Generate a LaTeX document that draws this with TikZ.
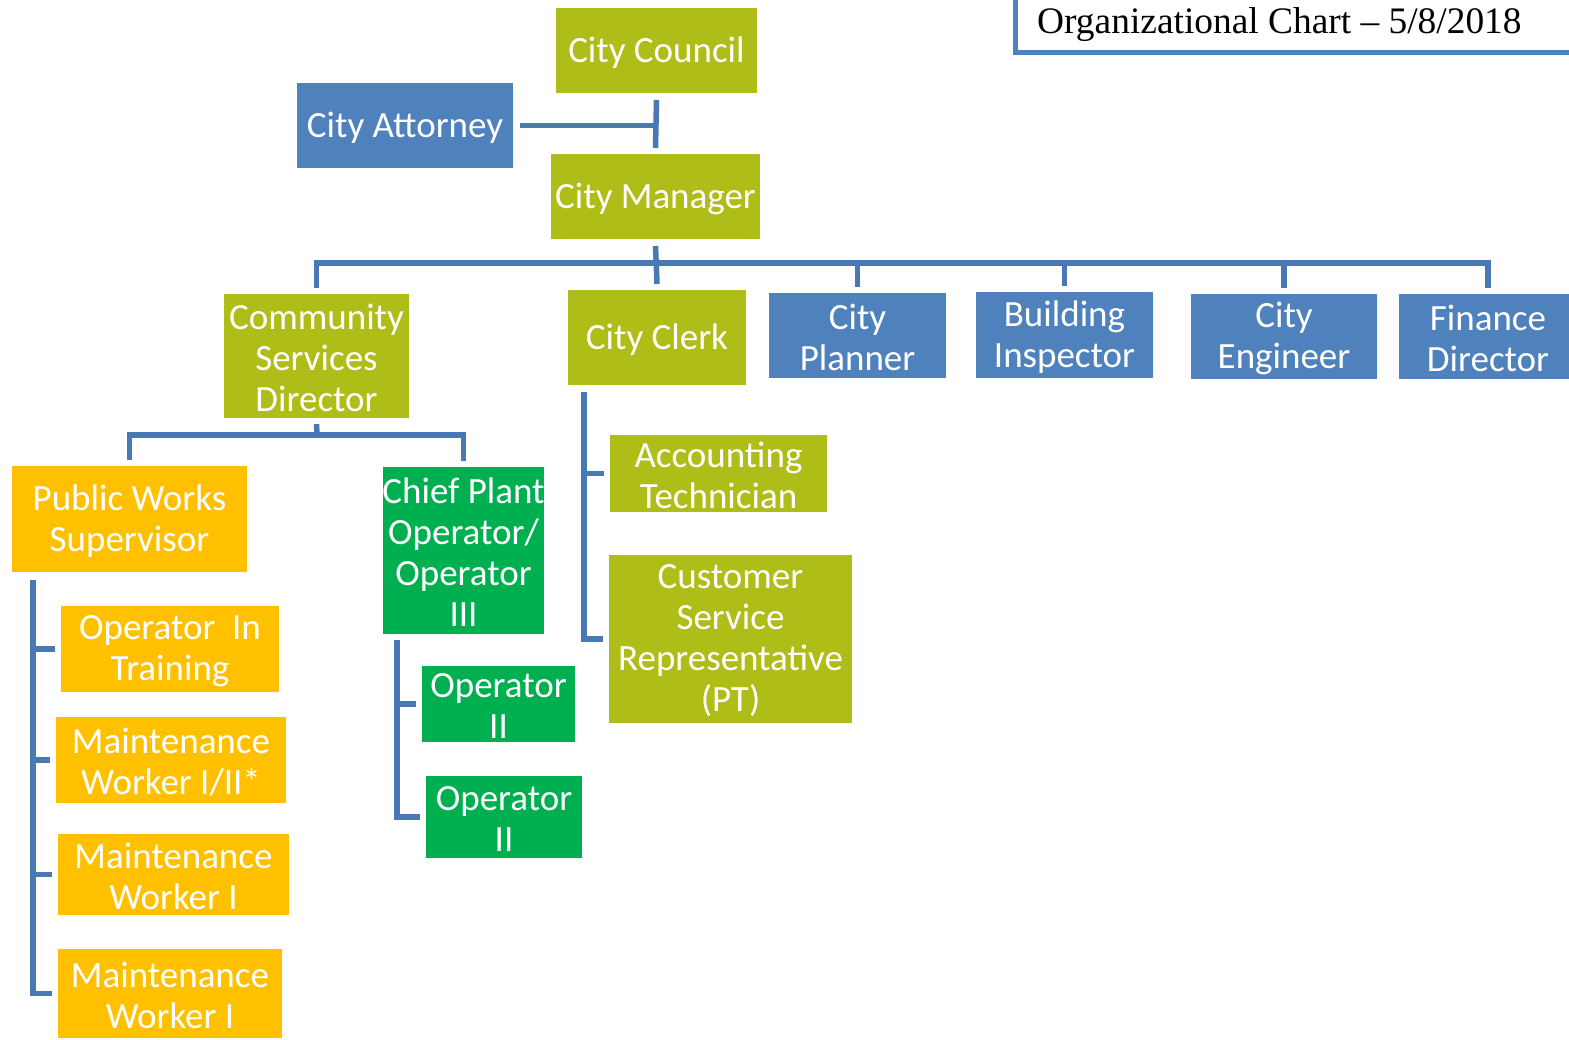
\documentclass[tikz,border=0pt]{standalone}
\usepackage{fontspec}
\setmainfont{Carlito}
\newfontfamily\titlefont{Liberation Serif}
\definecolor{olive}{HTML}{AFBD18}
\definecolor{bblue}{HTML}{4F81BD}
\definecolor{orng}{HTML}{FFC000}
\definecolor{grn}{HTML}{00B050}
\definecolor{cline}{HTML}{4A78B2}
\newcommand\orgbox[7]{\node[box,fill=#2,minimum width={(#5-#3)*1pt},minimum height={(#6-#4)*1pt},label={[boxtext]center:#7}] (#1) at ({(#3+#5)/2},{(#4+#6)/2}) {};}
\begin{document}
\begin{tikzpicture}[x=1pt,y=-1pt,
  box/.style={rectangle,inner sep=0pt,outer sep=0pt},
  boxtext/.style={inner sep=0pt,text=white,align=center,yshift=-2pt,font=\fontsize{37}{41}\selectfont},
  conn/.style={draw=cline,line width=5.5pt,line join=miter}]
\useasboundingbox (0,0) rectangle (1569,1040);
% title
\draw[draw=bblue,line width=5pt] (1015,0) -- (1015,53) -- (1575,53);
\node[anchor=base west,inner sep=0pt,font=\titlefont\fontsize{37.4}{41}\selectfont] (title) at (1037,34) {Organizational Chart – 5/8/2018};
% boxes
\orgbox{council}{olive}{556}{8}{757}{93}{City Council}
\orgbox{attorney}{bblue}{297}{83}{513}{168}{City Attorney}
\orgbox{manager}{olive}{551}{154}{760}{239}{City Manager}
\orgbox{csd}{olive}{224}{294}{409}{418}{Community\\Services\\Director}
\orgbox{clerk}{olive}{568}{290}{746}{385}{City Clerk}
\orgbox{planner}{bblue}{769}{293}{946}{378}{City\\Planner}
\orgbox{inspector}{bblue}{976}{292}{1153}{378}{Building\\Inspector}
\orgbox{engineer}{bblue}{1191}{294}{1377}{379}{City\\Engineer}
\orgbox{finance}{bblue}{1399}{294}{1577}{379}{Finance\\Director}
\orgbox{pws}{orng}{12}{466}{247}{572}{Public Works\\Supervisor}
\orgbox{cpo}{grn}{383}{467}{544}{634}{Chief Plant\\Operator/\\Operator\\III}
\orgbox{oit}{orng}{61}{606}{279}{692}{Operator~ In\\Training}
\orgbox{mw1}{orng}{56}{717}{286}{803}{Maintenance\\Worker I/II*}
\orgbox{mw2}{orng}{58}{834}{289}{915}{Maintenance\\Worker I}
\orgbox{mw3}{orng}{58}{949}{282}{1038}{Maintenance\\Worker I}
\orgbox{op1}{grn}{422}{666}{575}{742}{Operator\\II}
\orgbox{op2}{grn}{426}{776}{582}{858}{Operator\\II}
\orgbox{acct}{olive}{610}{435}{827}{512}{Accounting\\Technician}
\orgbox{csr}{olive}{609}{555}{852}{723}{Customer\\Service\\Representative\\(PT)}
% top connectors
\draw[conn] ([yshift=-7pt]council.south) -- ([yshift=6pt]manager.north);
\draw[conn] ([xshift=7pt]attorney.east) -- (attorney.east -| council.south);
\coordinate (bus) at (656,263);
\draw[conn] ([yshift=-7pt]manager.south) -- ([yshift=6pt]clerk.north);
\draw[conn] ([yshift=6pt]csd.north) |- (bus) -| ([yshift=6pt]finance.north);
\foreach \n in {planner,inspector,engineer}
  \draw[conn] (\n.north |- bus) -- ([yshift=6pt]\n.north);
% CSD children
\coordinate (csdbus) at (317,435);
\draw[conn] ([yshift=-6pt]csd.south) -- (csdbus);
\draw[conn] ([yshift=6pt]pws.north) |- (csdbus) -| ([yshift=6pt]cpo.north);
% PWS children
\coordinate (pwsv) at ([xshift=21pt,yshift=-8pt]pws.south west);
\draw[conn] (pwsv) |- ([xshift=-6pt]mw3.west);
\foreach \n in {oit,mw1,mw2}
  \draw[conn] (pwsv |- \n.west) -- ([xshift=-6pt]\n.west);
% CPO children
\coordinate (cpov) at ([xshift=14pt,yshift=-6pt]cpo.south west);
\draw[conn] (cpov) |- ([xshift=-6pt]op2.west);
\draw[conn] (cpov |- op1.west) -- ([xshift=-6pt]op1.west);
% Clerk children
\coordinate (clkv) at ([xshift=16pt,yshift=-7pt]clerk.south west);
\draw[conn] (clkv) |- ([xshift=-6pt]csr.west);
\draw[conn] (clkv |- acct.west) -- ([xshift=-6pt]acct.west);
\end{tikzpicture}
\end{document}
